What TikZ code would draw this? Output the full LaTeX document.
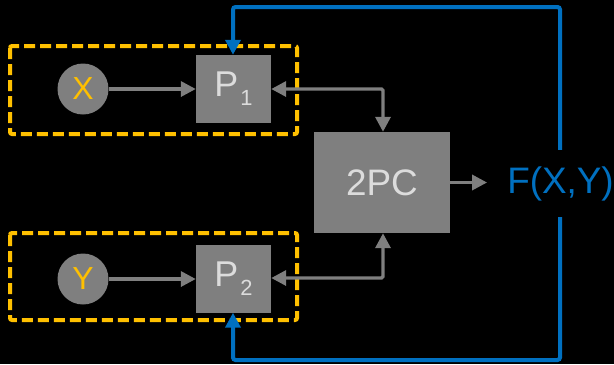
\documentclass[tikz,border=0pt]{standalone}
\usepackage{fontspec}
\setmainfont{Liberation Sans}
\usetikzlibrary{arrows.meta}
\definecolor{gbox}{HTML}{7F7F7F}
\definecolor{gtext}{HTML}{DCDCDC}
\definecolor{ylw}{HTML}{FFC000}
\definecolor{blu}{HTML}{0070C0}
\tikzset{
  box/.style={fill=gbox, inner sep=0pt, text=gtext},
  party/.style={box, minimum width=75bp, minimum height=68bp, font=\fontsize{36}{40}\selectfont},
  inp/.style={circle, fill=gbox, minimum size=51bp, inner sep=0pt, text=ylw, font=\fontsize{32}{36}\selectfont},
  garrow/.style={draw=gbox, line width=3.4bp, -{Triangle[length=15bp,width=15bp]}},
  gdarrow/.style={draw=gbox, line width=3.4bp, rounded corners=1.5bp, {Triangle[length=15bp,width=15bp]}-{Triangle[length=15bp,width=15bp]}},
  barrow/.style={draw=blu, line width=4bp, rounded corners=2.5bp, -{Triangle[length=15bp,width=15bp]}},
  dbox/.style={draw=ylw, line width=4bp, dash pattern=on 11bp off 5bp, rounded corners=2bp}
}
\newcommand{\Pidx}[1]{P\kern2bp\raisebox{-9bp}{\fontsize{22}{24}\selectfont #1}}
\begin{document}
\begin{tikzpicture}[x=1bp, y=-1bp]
\fill[black] (0,0) rectangle (614,364);
\useasboundingbox (0,0) rectangle (614,364);
% dashed groups
\draw[dbox] (10,46) rectangle (297,134);
\draw[dbox] (10,233) rectangle (297,320);
% nodes
\node[inp] (X) at (83,89) {X};
\node[inp] (Y) at (83,279) {Y};
\node[party] (P1) at (233.5,89) {\Pidx{1}};
\node[party] (P2) at (233.5,278.5) {\Pidx{2}};
\node[box, minimum width=136bp, minimum height=101bp, font=\fontsize{37}{40}\selectfont] (PC) at (382,182.5) {2PC};
\node[text=blu, inner sep=0pt, minimum height=67bp, font=\fontsize{37}{40}\selectfont] (F) at (560.5,183.5) {F(X,Y)};
\coordinate (c1) at (383,89);
\coordinate (c2) at (383,278);
\coordinate (t1) at (560,7);
\coordinate (t2) at (233,7);
\coordinate (b1) at (560,360);
\coordinate (b2) at (233,360);
% gray connectors
\draw[garrow] (X) -- (P1);
\draw[garrow] (Y) -- (P2.west |- Y);
\draw[gdarrow] (P1.east) -- (c1) -- (PC.north -| c1);
\draw[gdarrow] (P2.east |- c2) -- (c2) -- (PC.south -| c2);
\draw[garrow, shorten >=20bp] (PC.east) -- (F.west |- PC.east);
% blue feedback
\draw[barrow] (F.north -| t1) -- (t1) -- (t2) -- (P1.north -| t2);
\draw[barrow] (F.south -| b1) -- (b1) -- (b2) -- (P2.south -| b2);
\end{tikzpicture}
\end{document}
